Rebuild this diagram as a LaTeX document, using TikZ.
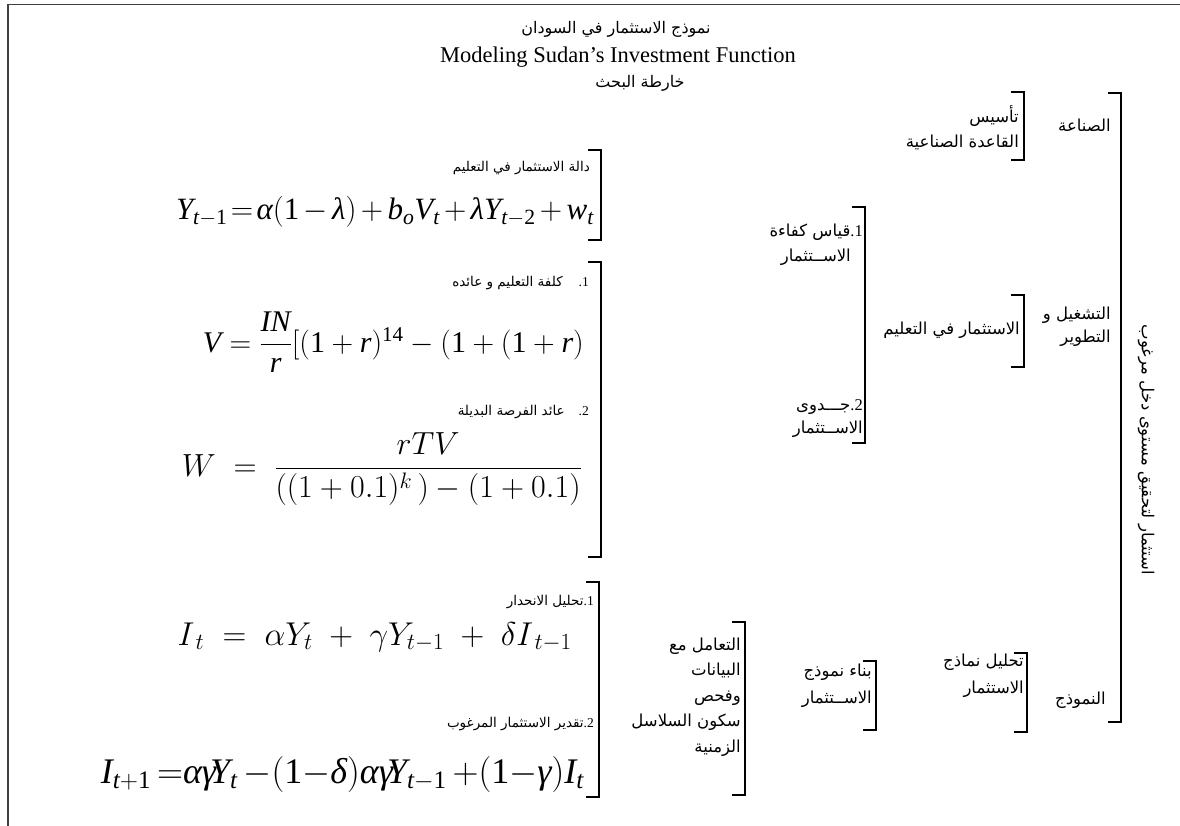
\RequirePackage{fix-cm}
\documentclass[tikz,border=0pt]{standalone}
\usepackage{amsmath}
\usepackage[no-math]{fontspec}
\setmainfont{Liberation Serif}
\newfontfamily\tnrfont{Liberation Serif}
\newfontfamily\arabicfont[Script=Arabic]{DejaVu Sans}
\TeXXeTstate=1
\newcommand\artxt[1]{{\arabicfont\beginR #1\endR}}
\newcommand\numtxt[1]{{\tnrfont #1}}
\newcommand\tmi[1]{\text{\tnrfont\itshape #1}}
\newcommand\tmr[1]{\text{\tnrfont\upshape #1}}
\newcommand\bracketR[3]{\draw[brk] (#1-13,#2) -- (#1,#2) -- (#1,#3) -- (#1-13,#3);}
\tikzset{
  lab/.style={font=\arabicfont\fontsize{16.5}{25}\selectfont, align=right, inner sep=0pt, anchor=east},
  slab/.style={font=\arabicfont\fontsize{13.5}{16}\selectfont, inner sep=0pt, anchor=east},
  brk/.style={line width=2.6pt, line cap=butt, line join=miter},
  border/.style={line width=1.6pt, draw=black!75},
  eqn/.style={inner sep=0pt, anchor=base east},
  tight/.style={execute at begin node={\thickmuskip=2mu\medmuskip=2.5mu}},
}
\begin{document}
\begin{tikzpicture}[x=1pt,y=-1pt]
\useasboundingbox (0,0) rectangle (1180,826);
\draw[border] (8,826) -- (8,4.5) -- (1180,4.5);

% titles
\node[font=\arabicfont\fontsize{16}{18}\selectfont] (t1) at (616,29) {\artxt{نموذج الاستثمار في السودان}};
\node[font=\fontsize{22.5}{26}\selectfont] (t2) at (618,57) {Modeling Sudan's Investment Function};
\node[font=\arabicfont\fontsize{16}{18}\selectfont] (t3) at (640,83) {\artxt{خارطة البحث}};

% big bracket and rotated text
\bracketR{1121}{93}{722}
\node[font=\arabicfont\fontsize{16.5}{18}\selectfont, rotate=-90] (goal) at (1146,450) {\artxt{استثمار لتحقيق مستوى دخل مرغوب}};

% industry
\node[lab] (sinaa) at (1111,125) {\artxt{الصناعة}};
\node[lab] (tasis) at (1019,128) {\artxt{تأسيس}\\\artxt{القاعدة الصناعية}};
\bracketR{1024}{92}{160}

% operation
\node[lab, font=\arabicfont\fontsize{16.5}{23}\selectfont] (tashgil) at (1111,327) {\artxt{التشغيل و}\\\artxt{التطوير}};
\node[lab] (istedu) at (1020,330) {\artxt{الاستثمار في التعليم}};
\bracketR{1024}{295}{367}
\node[lab] (qiyas) at (863,245) {\artxt{قياس كفاءة}\numtxt{.1}\\\artxt{الاســتثمار}\hspace*{12pt}};
\node[lab, font=\arabicfont\fontsize{16.5}{23}\selectfont] (jadwa) at (863,419) {\artxt{جـــدوى}\numtxt{.2}\\\artxt{الاســتثمار}};
\bracketR{865}{207}{443}

% model
\node[lab] (namudhaj) at (1106,700) {\artxt{النموذج}};
\node[lab, font=\arabicfont\fontsize{16.5}{27}\selectfont] (tahlil) at (1024,676) {\artxt{تحليل نماذج}\\\artxt{الاستثمار}};
\bracketR{1027}{653}{732}
\node[lab, font=\arabicfont\fontsize{16.5}{27}\selectfont] (binaa) at (872,686) {\artxt{بناء نموذج}\\\artxt{الاســتثمار}};
\bracketR{876}{661}{730}
\node[lab, font=\arabicfont\fontsize{16.5}{25.5}\selectfont] (taamul) at (741,697) {\artxt{التعامل مع}\\\artxt{البيانات}\\\artxt{وفحص}\\\artxt{سكون السلاسل}\\\artxt{الزمنية}};
\bracketR{745}{622}{795}

% left: education function
\node[slab] (l1) at (590,168) {\artxt{دالة الاستثمار في التعليم}};
\node[eqn, tight, font=\fontsize{31}{36}\selectfont] (eqY) at (594,220)
  {$\tmi{Y}_{\tmi{t}-\tmr{1}}=\tmi{α}(\tmr{1}-\tmi{λ})+\tmi{b}_{\tmi{o}}\tmi{V}_{\tmi{t}}+\tmi{λY}_{\tmi{t}-\tmr{2}}+\tmi{w}_{\tmi{t}}$};
\bracketR{601}{150}{240}

\node[slab] (l2) at (589,283) {\artxt{كلفة التعليم و عائده}\hspace{16pt}\numtxt{.1}};
\node[eqn, font=\fontsize{30}{36}\selectfont] (eqV) at (584,352)
  {$\tmi{V}=\dfrac{\tmi{IN}}{\tmi{r}}[(\tmr{1}+\tmi{r})^{\tmr{14}}-(\tmr{1}+(\tmr{1}+\tmi{r})$};
\node[slab] (l3) at (589,412) {\artxt{عائد الفرصة البديلة}\hspace{14pt}\numtxt{.2}};
\node[eqn, font=\fontsize{32}{38}\selectfont] (eqW) at (582,476)
  {$W\;=\;\dfrac{rTV}{((1+0.1)^{k}\,)-(1+0.1)}$};
\bracketR{601}{262}{557}

% left: regression
\node[slab] (l4) at (594,602) {\artxt{تحليل الانحدار}\numtxt{.1}};
\node[eqn, font=\fontsize{33}{38}\selectfont] (eqI) at (572,645)
  {$I_{\,t}\;=\;\alpha Y_{t}\;+\;\gamma Y_{t-1}\;+\;\delta I_{\,t-1}$};
\node[slab] (l5) at (594,724) {\artxt{تقدير الاستثمار المرغوب}\numtxt{.2}};
\node[eqn, font=\fontsize{36}{40}\selectfont] (eqI2) at (584,783)
  {$\tmi{I}_{\tmi{t}+\tmr{1}}\,{=}\tmi{αγ}\!\tmi{Y}_{\tmi{t}}\,{-}(\tmr{1}{-}\tmi{δ})\tmi{αγ}\!\tmi{Y}_{\tmi{t}-\tmr{1}}\,{+}(\tmr{1}{-}\tmi{γ})\tmi{I}_{\tmi{t}}$};
\bracketR{599}{582}{797}
\end{tikzpicture}
\end{document}
